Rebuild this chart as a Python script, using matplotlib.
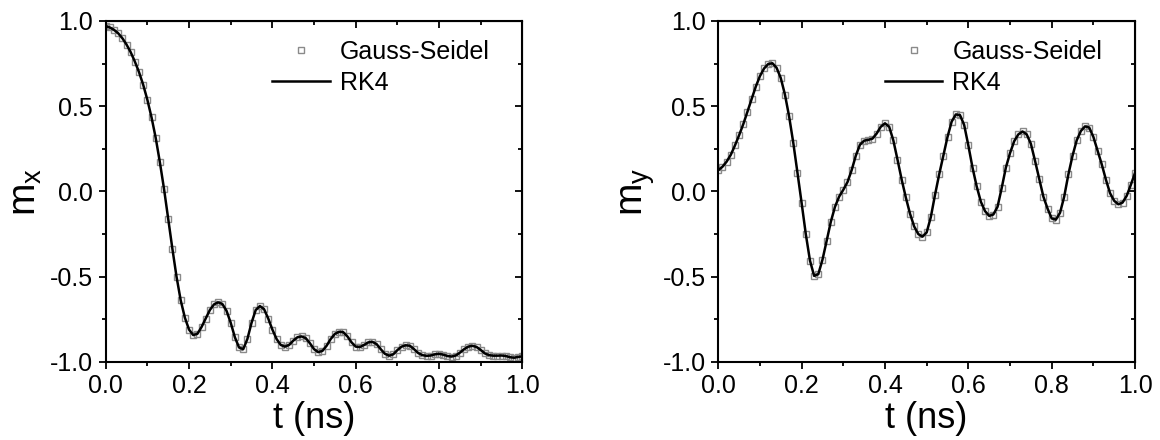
import numpy as np
import matplotlib
matplotlib.use("Agg")
import matplotlib.pyplot as plt
from matplotlib.ticker import MultipleLocator

plt.rcParams['font.family'] = ['Liberation Sans', 'DejaVu Sans']
plt.rcParams['mathtext.fontset'] = 'custom'
plt.rcParams['mathtext.rm'] = 'Liberation Sans'
plt.rcParams['mathtext.it'] = 'Liberation Sans'

# time grid (ns), sampled every 10 ps
t = np.round(np.arange(0, 101) * 0.01, 2)

# x component of magnetization
mx = [0.970, 0.962, 0.948, 0.928, 0.899, 0.862, 0.817, 0.762, 0.700, 0.626,
      0.538, 0.435, 0.315, 0.172, 0.015, -0.160, -0.335, -0.500, -0.638, -0.740,
      -0.810, -0.842, -0.835, -0.795, -0.745, -0.695, -0.662, -0.650, -0.660, -0.700,
      -0.770, -0.855, -0.915, -0.925, -0.865, -0.770, -0.695, -0.672, -0.690, -0.745,
      -0.810, -0.865, -0.900, -0.910, -0.900, -0.875, -0.855, -0.850, -0.860, -0.890,
      -0.925, -0.942, -0.935, -0.905, -0.865, -0.835, -0.823, -0.825, -0.850, -0.885,
      -0.910, -0.912, -0.900, -0.885, -0.882, -0.895, -0.925, -0.952, -0.963, -0.955,
      -0.930, -0.910, -0.902, -0.905, -0.925, -0.948, -0.960, -0.964, -0.962, -0.955,
      -0.952, -0.957, -0.965, -0.968, -0.962, -0.945, -0.925, -0.910, -0.905, -0.912,
      -0.930, -0.950, -0.960, -0.963, -0.963, -0.962, -0.965, -0.972, -0.975, -0.970,
      -0.967]

# y component of magnetization
my = [0.125, 0.145, 0.175, 0.215, 0.270, 0.330, 0.395, 0.468, 0.542, 0.615,
      0.677, 0.722, 0.748, 0.752, 0.725, 0.665, 0.568, 0.440, 0.285, 0.110,
      -0.068, -0.250, -0.405, -0.495, -0.485, -0.400, -0.290, -0.178, -0.090, -0.030,
      0.010, 0.055, 0.125, 0.210, 0.275, 0.298, 0.303, 0.310, 0.340, 0.380,
      0.400, 0.380, 0.300, 0.187, 0.070, -0.035, -0.130, -0.205, -0.250, -0.265,
      -0.240, -0.150, -0.020, 0.100, 0.210, 0.320, 0.410, 0.452, 0.448, 0.390,
      0.270, 0.140, 0.030, -0.060, -0.115, -0.143, -0.135, -0.090, 0.020, 0.140,
      0.225, 0.295, 0.335, 0.352, 0.335, 0.280, 0.180, 0.075, -0.030, -0.100,
      -0.158, -0.165, -0.125, -0.030, 0.100, 0.210, 0.300, 0.355, 0.382, 0.375,
      0.320, 0.240, 0.160, 0.070, -0.010, -0.055, -0.075, -0.065, -0.025, 0.040,
      0.110]

xticks = [0.0, 0.2, 0.4, 0.6, 0.8, 1.0]
yticks = [-1.0, -0.5, 0.0, 0.5, 1.0]

fig = plt.figure(figsize=(11.6, 4.4), dpi=100)
ax1 = fig.add_axes([0.0911, 0.1773, 0.3593, 0.775])
ax2 = fig.add_axes([0.6192, 0.1773, 0.3593, 0.775])

for ax, data, lab in [(ax1, mx, r'$\mathrm{m}_\mathrm{x}$'),
                      (ax2, my, r'$\mathrm{m}_\mathrm{y}$')]:
    ax.plot(t, data, linestyle='none', marker='s', markersize=5.0,
            markerfacecolor='none', markeredgecolor='#8a8a8a',
            markeredgewidth=1.0, label='Gauss-Seidel', zorder=2)
    ax.plot(t, data, color='black', linewidth=1.8, label='RK4', zorder=3)
    ax.set_xlim(0, 1.0)
    ax.set_ylim(-1.0, 1.0)
    ax.set_xticks(xticks)
    ax.set_yticks(yticks)
    ax.set_xticklabels([f'{v:.1f}' for v in xticks])
    ax.set_yticklabels([f'{v:.1f}' for v in yticks])
    ax.xaxis.set_minor_locator(MultipleLocator(0.1))
    ax.yaxis.set_minor_locator(MultipleLocator(0.25))
    ax.tick_params(which='both', direction='out', width=1.3, labelsize=18,
                   top=False, right=False, pad=4)
    ax.tick_params(which='major', length=5)
    ax.tick_params(which='minor', length=3)
    for s in ax.spines.values():
        s.set_linewidth(1.5)

    # mirrored inward ticks on top and right
    sx = ax.secondary_xaxis('top')
    sx.set_xticks(xticks)
    sx.xaxis.set_minor_locator(MultipleLocator(0.1))
    sx.tick_params(which='both', direction='in', width=1.3, labeltop=False)
    sx.tick_params(which='major', length=5)
    sx.tick_params(which='minor', length=3)
    sy = ax.secondary_yaxis('right')
    sy.set_yticks(yticks)
    sy.yaxis.set_minor_locator(MultipleLocator(0.25))
    sy.tick_params(which='both', direction='in', width=1.3, labelright=False)
    sy.tick_params(which='major', length=5)
    sy.tick_params(which='minor', length=3)

    ax.set_xlabel('t (ns)', fontsize=26, labelpad=2)
    ax.set_ylabel(lab, fontsize=28, labelpad=4)

    ax.legend(loc='upper left', bbox_to_anchor=(0.40, 0.945), frameon=False,
              fontsize=18, numpoints=1, handlelength=2.3, handletextpad=0.4,
              labelspacing=0.3, borderpad=0, borderaxespad=0)

fig.savefig('out.png', dpi=100)
